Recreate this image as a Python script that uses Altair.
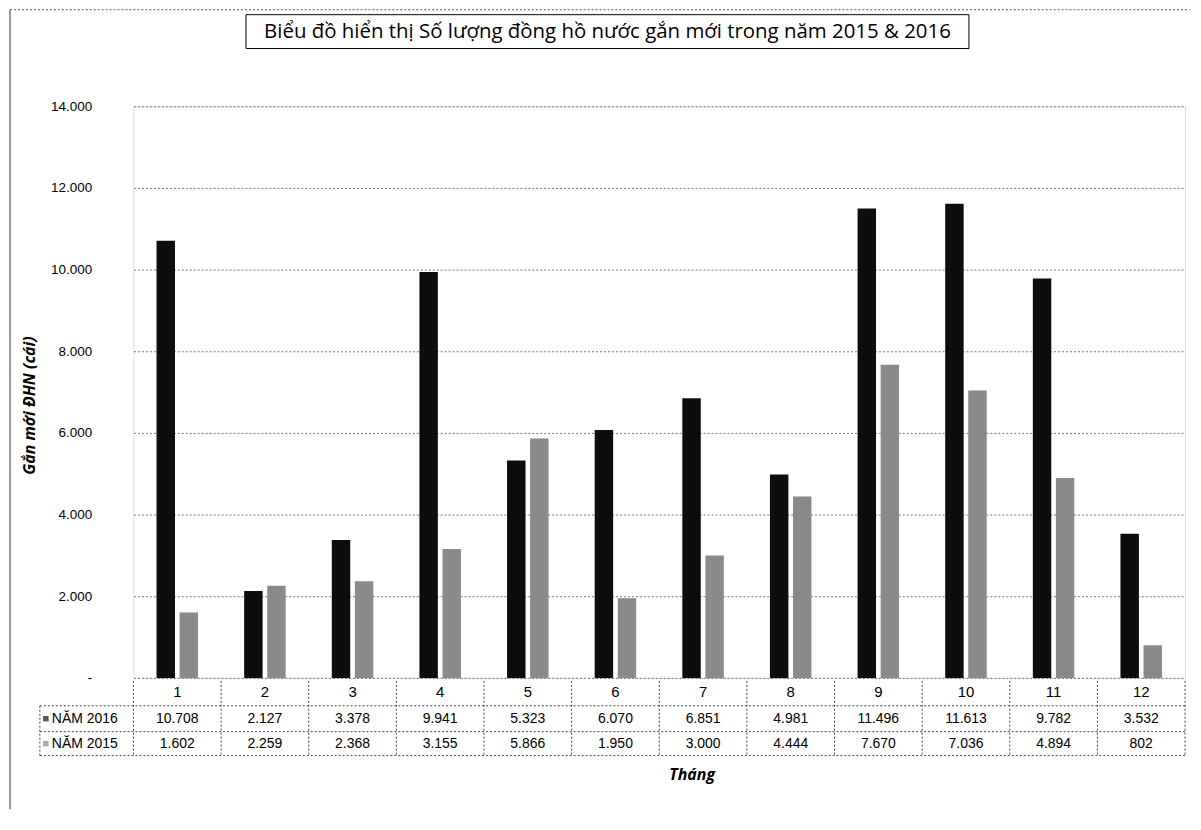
import altair as alt
import pandas as pd

months = list(range(1, 13))
series = ["NĂM 2016", "NĂM 2015"]
y2016 = [10708, 2127, 3378, 9941, 5323, 6070, 6851, 4981, 11496, 11613, 9782, 3532]
y2015 = [1602, 2259, 2368, 3155, 5866, 1950, 3000, 4444, 7670, 7036, 4894, 802]
y_ticks = [0, 2000, 4000, 6000, 8000, 10000, 12000, 14000]
title_text = "Biểu đồ hiển thị Số lượng đồng hồ nước gắn mới trong năm 2015 & 2016"
y_title = "Gắn mới ĐHN (cái)"
x_title = "Tháng"

df = pd.DataFrame({
    "month": months * 2,
    "series": [series[0]] * 12 + [series[1]] * 12,
    "value": y2016 + y2015,
})
mdf = pd.DataFrame({"month": months})
one = pd.DataFrame({"a": [0]})

W, H = 1056, 574
grid_col = "#777777"
fnt = "Liberation Sans"

xenc = alt.X("month:O", scale=alt.Scale(paddingInner=0, paddingOuter=0), axis=None)

bars = alt.Chart(df).mark_bar().encode(
    x=xenc,
    xOffset=alt.XOffset("series:N", sort=series,
                        scale=alt.Scale(paddingInner=0.2, paddingOuter=1)),
    y=alt.Y("value:Q", scale=alt.Scale(domain=[0, 14000]),
            axis=alt.Axis(values=y_ticks,
                          labelExpr="datum.value == 0 ? '-' : replace(format(datum.value, ','), ',', '.')",
                          grid=True, gridDash=[2, 2], gridColor=grid_col, gridWidth=1,
                          ticks=False, domain=False, labelPadding=42,
                          labelFont=fnt, labelFontSize=13.5, labelColor="#000",
                          title=y_title, titleFont="Open Sans", titleFontStyle="italic",
                          titleFontWeight="bold", titleFontSize=16, titleColor="#000",
                          titleX=-96, titleY=300)),
    color=alt.Color("series:N", scale=alt.Scale(domain=series, range=["#0d0d0d", "#8a8a8a"]),
                    legend=None),
)

hdr = alt.Chart(mdf).mark_text(font=fnt, fontSize=15, color="#000").encode(
    x="month:O", y=alt.value(H + 14), text="month:N")

lbl_expr = "replace(format(datum.value, ','), ',', '.')"
row16 = alt.Chart(df).transform_filter(alt.datum.series == series[0]).transform_calculate(
    lbl=lbl_expr).mark_text(font=fnt, fontSize=14, color="#000").encode(
    x="month:O", y=alt.value(H + 41), text="lbl:N")
row15 = alt.Chart(df).transform_filter(alt.datum.series == series[1]).transform_calculate(
    lbl=lbl_expr).mark_text(font=fnt, fontSize=14, color="#000").encode(
    x="month:O", y=alt.value(H + 66), text="lbl:N")

vlines = alt.Chart(mdf).mark_rule(strokeDash=[2, 2], color="#444", strokeWidth=1).encode(
    x=alt.X("month:O", bandPosition=0), y=alt.value(H + 3), y2=alt.value(H + 78))

def rule(x, x2, y, y2, dash=True, color="#444"):
    kw = dict(color=color, strokeWidth=1)
    if dash:
        kw["strokeDash"] = [2, 2]
    return alt.Chart(one).mark_rule(**kw).encode(
        x=alt.value(x), x2=alt.value(x2), y=alt.value(y), y2=alt.value(y2))

table_rules = [
    rule(W, W, H + 3, H + 78),
    rule(-94, -94, H + 28, H + 78),
    rule(-94, W, H + 28, H + 28),
    rule(-94, W, H + 54, H + 54),
    rule(-94, W, H + 78, H + 78),
    rule(-124, -124, -97, H + 132, dash=False, color="#333"),
    rule(-124, W + 5, -97, -97, color="#555"),
]

sq16 = alt.Chart(one).mark_square(size=30, color="#111").encode(x=alt.value(-88), y=alt.value(H + 41))
sq15 = alt.Chart(one).mark_square(size=30, color="#8a8a8a").encode(x=alt.value(-88), y=alt.value(H + 66))
t16 = alt.Chart(one).mark_text(font=fnt, fontSize=14, align="left", color="#000").encode(
    x=alt.value(-82), y=alt.value(H + 41), text=alt.value(series[0]))
t15 = alt.Chart(one).mark_text(font=fnt, fontSize=14, align="left", color="#000").encode(
    x=alt.value(-82), y=alt.value(H + 66), text=alt.value(series[1]))

xt = alt.Chart(one).mark_text(font="Open Sans", fontSize=16, fontStyle="italic",
                              fontWeight="bold", color="#000").encode(
    x=alt.value(561), y=alt.value(H + 98), text=alt.value(x_title))

tbox = alt.Chart(one).mark_rect(fill="white", stroke="#000", strokeWidth=1).encode(
    x=alt.value(113), x2=alt.value(839), y=alt.value(-92), y2=alt.value(-58))
ttext = alt.Chart(one).mark_text(font="Open Sans", fontSize=20.5, color="#000").encode(
    x=alt.value(476), y=alt.value(-75), text=alt.value(title_text))

chart = alt.layer(
    bars, hdr, row16, row15, vlines, *table_rules, sq16, sq15, t16, t15, xt, tbox, ttext
).properties(
    width=W, height=H,
    autosize=alt.AutoSizeParams(type="none"),
    padding={"left": 126, "top": 97, "right": 8, "bottom": 140},
).configure_view(stroke=None).configure(background="white")

chart.save("out.html", embed_options={"renderer": "svg", "actions": False})
